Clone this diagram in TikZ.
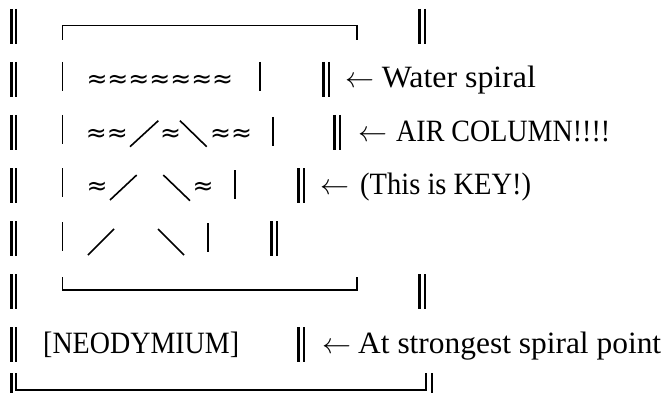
\RequirePackage{fix-cm}
\documentclass[tikz,border=0pt]{standalone}
\usepackage{fontspec}
\usepackage{graphicx}
\setmainfont{Liberation Serif}
\newfontfamily\wavefont{DejaVu Sans}
\newcommand\lblsize{\fontsize{31}{31}\selectfont}
\newcommand\fitlbl[2]{\resizebox{#1}{\height}{\lblsize #2}}
\newcommand\larr{$\leftarrow$}
\begin{document}
\begin{tikzpicture}[x=1pt,y=-1pt,
  dbl/.style={line width=2.6pt},
  thinline/.style={line width=1.1pt},
  diag/.style={line width=1.6pt},
  lbl/.style={inner sep=0pt, anchor=base west},
  wave/.style={inner sep=0pt, anchor=base west, font=\wavefont\fontsize{25}{25}\selectfont},
  arr/.style={inner sep=0pt, anchor=base west, font=\fontsize{29}{29}\selectfont}]
\useasboundingbox (0,0) rectangle (666,393);
% left double bars
\foreach \t/\b in {9/44, 62/97, 115/150, 168/203, 221/256, 274/309, 327/362}{
  \draw[dbl] (11.3,\t) -- (11.3,\b);
  \draw[dbl] (15.8,\t) -- (15.8,\b);
}
% right double bars
\foreach \x/\t/\b in {419.3/9/44, 323.5/62/97, 334.3/115/150, 298.3/168/203, 271.3/221/256, 419.3/274/309, 298.3/327/362}{
  \draw[dbl] (\x,\t) -- (\x,\b);
  \draw[dbl] (\x+5.6,\t) -- (\x+5.6,\b);
}
% inner box top and bottom
\draw[thinline] (62.7,40) -- (62.7,25.7) -- (357,25.7) -- (357,40);
\draw[thinline] (62.7,277) -- (62.7,290) -- (357,290) -- (357,277);
% inner single bars
\foreach \t/\b in {62/91, 115/144, 168/197, 222/251}{
  \draw[thinline] (62.7,\t) -- (62.7,\b);
}
\draw[thinline] (260,62) -- (260,91);
\draw[thinline] (273,117) -- (273,146);
\draw[thinline] (235,170) -- (235,199);
\draw[thinline] (208,223) -- (208,252);
% diagonals
\draw[diag] (130,146.7) -- (158.3,120.7);
\draw[diag] (180,120.7) -- (206.7,146.7);
\draw[diag] (110,200) -- (136.7,175);
\draw[diag] (163.3,175) -- (190,200.7);
\draw[diag] (88,255) -- (114,229);
\draw[diag] (158,229) -- (184,255);
% bottom frame
\draw[dbl] (11.3,373) -- (11.3,393);
\draw[line width=2pt] (15.8,373) -- (15.8,389.5) -- (426,389.5) -- (426,373);
\draw[dbl] (432,373) -- (432,393);
% waves
\node[wave] (w1) at (86.3,88) {≈≈≈≈≈≈≈};
\node[wave] (w2a) at (85.6,141) {≈≈};
\node[wave] (w2b) at (160,141) {≈};
\node[wave] (w2c) at (210,141) {≈≈};
\node[wave] (w3a) at (86.3,194) {≈};
\node[wave] (w3b) at (192.3,194) {≈};
% labels
\node[arr] (a1) at (345,88) {\larr};
\node[lbl] (t1) at (381.7,88) {\fitlbl{154pt}{Water spiral}};
\node[arr] (a2) at (358,141) {\larr};
\node[lbl] (t2) at (396,141) {\fitlbl{214pt}{AIR COLUMN!!!!}};
\node[arr] (a3) at (320,194) {\larr};
\node[lbl] (t3) at (360,194) {\fitlbl{171pt}{(This is KEY!)}};
\node[lbl] (n6) at (43,353) {\fitlbl{196pt}{[NEODYMIUM]}};
\node[arr] (a6) at (322,353) {\larr};
\node[lbl] (t6) at (358,353) {\fitlbl{303pt}{At strongest spiral point}};
\end{tikzpicture}
\end{document}
